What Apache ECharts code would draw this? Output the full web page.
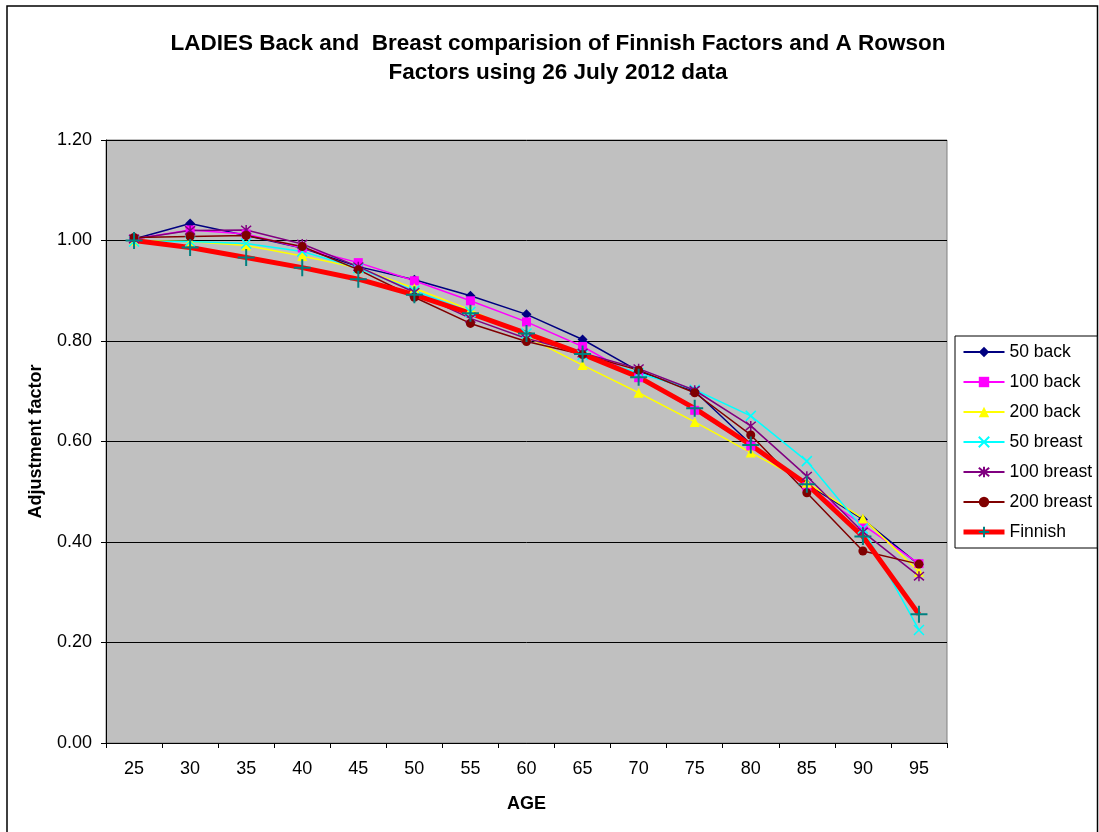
<!DOCTYPE html>
<html>
<head>
<meta charset="utf-8">
<script src="https://cdn.jsdelivr.net/npm/echarts@6/dist/echarts.min.js"></script>
<style>
html,body{margin:0;padding:0;background:#fff;}
#chart{width:1099px;height:832px;}
</style>
</head>
<body>
<div id="chart"></div>
<script>
const ages = ['25','30','35','40','45','50','55','60','65','70','75','80','85','90','95'];
const back50    = [1.003, 1.034, 1.010, 0.985, 0.948, 0.922, 0.890, 0.853, 0.803, 0.740, 0.700, 0.595, 0.515, 0.445, 0.355];
const back100   = [1.003, 1.021, 1.013, 0.985, 0.956, 0.920, 0.880, 0.838, 0.789, 0.727, 0.662, 0.591, 0.510, 0.434, 0.357];
const back200   = [1.000, 0.998, 0.990, 0.969, 0.945, 0.905, 0.862, 0.809, 0.752, 0.697, 0.639, 0.578, 0.518, 0.447, 0.341];
const breast50  = [0.998, 0.998, 0.994, 0.978, 0.945, 0.900, 0.858, 0.815, 0.772, 0.736, 0.703, 0.651, 0.561, 0.427, 0.225];
const breast100 = [1.003, 1.020, 1.021, 0.993, 0.948, 0.897, 0.845, 0.805, 0.776, 0.745, 0.702, 0.631, 0.531, 0.420, 0.332];
const breast200 = [1.006, 1.008, 1.010, 0.988, 0.942, 0.887, 0.835, 0.799, 0.773, 0.742, 0.697, 0.613, 0.498, 0.382, 0.356];
const finnish   = [1.000, 0.986, 0.966, 0.946, 0.923, 0.892, 0.855, 0.815, 0.774, 0.728, 0.666, 0.593, 0.515, 0.411, 0.256];
const seriesNames = ['50 back','100 back','200 back','50 breast','100 breast','200 breast','Finnish'];

const FONT = 'Arial, "Liberation Sans", sans-serif';
const chart = echarts.init(document.getElementById('chart'), null, {renderer:'canvas'});

function thin(name, data, color, symbol, size, stroke) {
  return {
    name, type:'line', data, symbol, symbolSize:size,
    showAllSymbol:true,
    lineStyle:{color, width:1.5},
    itemStyle: stroke ? {color:'rgba(0,0,0,0)', borderColor:color, borderWidth:1.5} : {color},
    color,
    emphasis:{disabled:true},
    animation:false
  };
}

const legendData = seriesNames.map((n, i) =>
  i === 6 ? {name:n, lineStyle:{width:5, color:'#FF0000'}} : {name:n});

const option = {
  animation:false,
  backgroundColor:'#ffffff',
  textStyle:{fontFamily:FONT},
  title:{
    text:'LADIES Back and  Breast comparision of Finnish Factors and A Rowson\nFactors using 26 July 2012 data',
    left:553, top:24, textAlign:'center',
    textStyle:{fontFamily:FONT, fontSize:22.5, fontWeight:'bold', color:'#000', lineHeight:29}
  },
  graphic:[{
    type:'rect', z:-1,
    shape:{x:7, y:6, width:1090.5, height:840},
    style:{fill:'none', stroke:'#000', lineWidth:1.5}
  }],
  legend:{
    orient:'vertical', left:955, top:336,
    data:legendData,
    backgroundColor:'#fff',
    borderColor:'#000', borderWidth:1,
    padding:[7,5,7,6],
    itemWidth:41, itemHeight:13, itemGap:12,
    textStyle:{fontFamily:FONT, fontSize:17.5, color:'#000', lineHeight:18},
    selectedMode:false
  },
  grid:{
    left:106, right:152, top:140, bottom:89,
    show:true, backgroundColor:'#C0C0C0', borderColor:'#808080', borderWidth:1
  },
  xAxis:{
    type:'category', data:ages, boundaryGap:true,
    name:'AGE', nameLocation:'middle', nameGap:52,
    nameTextStyle:{fontFamily:FONT, fontSize:18, fontWeight:'bold', color:'#000'},
    axisLine:{show:true, lineStyle:{color:'#000', width:1}},
    axisTick:{show:true, length:5, lineStyle:{color:'#000'}},
    axisLabel:{fontFamily:FONT, fontSize:18, color:'#000', margin:17},
    splitLine:{show:false}
  },
  yAxis:{
    type:'value', min:0, max:1.2, interval:0.2,
    name:'Adjustment factor', nameLocation:'middle', nameGap:61, nameRotate:90,
    nameTextStyle:{fontFamily:FONT, fontSize:18, fontWeight:'bold', color:'#000'},
    axisLine:{show:true, lineStyle:{color:'#000', width:1}},
    axisTick:{show:true, length:5, lineStyle:{color:'#000'}},
    axisLabel:{fontFamily:FONT, fontSize:18, color:'#000', margin:14, formatter:v=>v.toFixed(2)},
    splitLine:{show:true, lineStyle:{color:'#000', width:1}}
  },
  series:[
    thin(seriesNames[0], back50, '#000080', 'diamond', 10, false),
    thin(seriesNames[1], back100, '#FF00FF', 'rect', 9, false),
    thin(seriesNames[2], back200, '#FFFF00', 'triangle', 10, false),
    thin(seriesNames[3], breast50, '#00FFFF', 'path://M0,0L10,10M10,0L0,10', 10, true),
    thin(seriesNames[4], breast100, '#800080', 'path://M0,0L10,10M10,0L0,10M5,-1L5,11', 10, true),
    thin(seriesNames[5], breast200, '#800000', 'circle', 9, false),
    {
      name:seriesNames[6], type:'line', data:finnish,
      symbol:'path://M5,0L5,10M0,5L10,5', symbolSize:17, showAllSymbol:true,
      color:'#FF0000',
      lineStyle:{color:'#FF0000', width:5},
      itemStyle:{color:'rgba(0,0,0,0)', borderColor:'#008080', borderWidth:2},
      emphasis:{disabled:true},
      animation:false
    }
  ]
};
chart.setOption(option);
</script>
</body>
</html>
